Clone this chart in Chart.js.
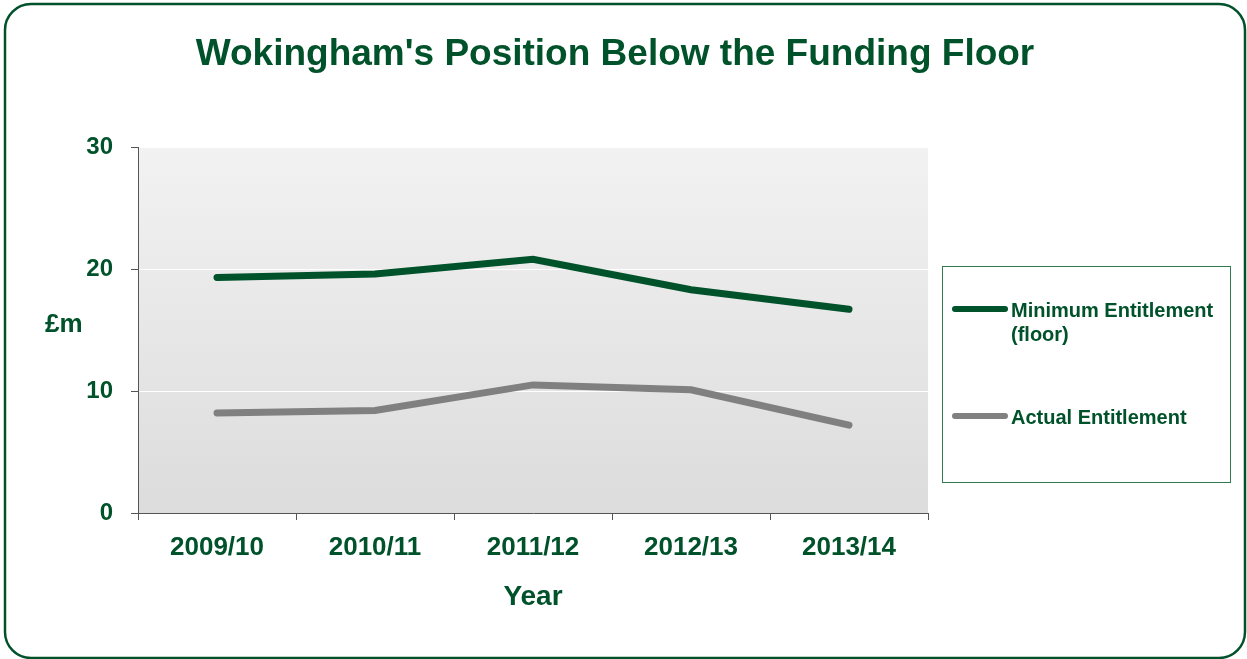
<!DOCTYPE html>
<html>
<head>
<meta charset="utf-8">
<script src="https://cdn.jsdelivr.net/npm/chart.js@4.4.1/dist/chart.umd.min.js"></script>
<style>
  body { margin: 0; background: #ffffff; }
  #wrap { width: 1247px; height: 659px; position: relative; }
</style>
</head>
<body>
<div id="wrap"><canvas id="myChart" width="1247" height="659"></canvas></div>
<script>
const years = ['2009/10', '2010/11', '2011/12', '2012/13', '2013/14'];
const minimumEntitlement = [19.3, 19.6, 20.8, 18.3, 16.7];
const actualEntitlement = [8.2, 8.4, 10.5, 10.1, 7.2];
const seriesNames = ['Minimum Entitlement (floor)', 'Actual Entitlement'];
const yTicks = [0, 10, 20, 30];

const titleText = "Wokingham's Position Below the Funding Floor";
const yTitle = '£m';
const xTitle = 'Year';

const green = '#00522a';
const grey = '#808080';
const axisGrey = '#555555';
const fontFamily = '"Liberation Sans", Arial, sans-serif';

// frame, plot background, title, y title and the boxed legend
const decorations = {
    id: 'decorations',
    beforeDraw(chart) {
        const ctx = chart.ctx;
        const a = chart.chartArea;
        let grad = ctx.createLinearGradient(0, a.top, 0, a.bottom);
        grad.addColorStop(0, '#f2f2f2');
        grad.addColorStop(1, '#dcdcdc');
        ctx.save();
        ctx.fillStyle = grad;
        ctx.fillRect(a.left, a.top, a.right - a.left, a.bottom - a.top);
        ctx.restore();
    },
    afterDraw(chart) {
        const ctx = chart.ctx;
        ctx.save();

        // rounded outer frame
        let x0 = 5, y0 = 4, x1 = 1245, y1 = 658, r = 26;
        ctx.strokeStyle = green;
        ctx.lineWidth = 2.5;
        ctx.beginPath();
        ctx.moveTo(x0 + r, y0);
        ctx.lineTo(x1 - r, y0);
        ctx.arcTo(x1, y0, x1, y0 + r, r);
        ctx.lineTo(x1, y1 - r);
        ctx.arcTo(x1, y1, x1 - r, y1, r);
        ctx.lineTo(x0 + r, y1);
        ctx.arcTo(x0, y1, x0, y1 - r, r);
        ctx.lineTo(x0, y0 + r);
        ctx.arcTo(x0, y0, x0 + r, y0, r);
        ctx.closePath();
        ctx.stroke();

        // title
        ctx.fillStyle = green;
        ctx.textAlign = 'center';
        ctx.textBaseline = 'alphabetic';
        ctx.font = 'bold 37px ' + fontFamily;
        ctx.fillText(titleText, 615, 65);

        // y axis title, horizontal
        ctx.textAlign = 'left';
        ctx.font = 'bold 26px ' + fontFamily;
        ctx.fillText(yTitle, 45, 332);

        // legend box
        ctx.strokeStyle = '#2f7a4f';
        ctx.lineWidth = 1;
        ctx.strokeRect(942.5, 266.5, 288, 216);

        const rows = [309, 416];
        ctx.font = 'bold 20px ' + fontFamily;
        ctx.textBaseline = 'middle';
        chart.data.datasets.forEach((ds, i) => {
            let y = rows[i];
            ctx.strokeStyle = ds.borderColor;
            ctx.lineWidth = 6;
            ctx.lineCap = 'round';
            ctx.beginPath();
            ctx.moveTo(955, y);
            ctx.lineTo(1005, y);
            ctx.stroke();

            // wrap the label inside the box
            let words = ds.label.split(' ');
            let lines = [];
            let line = '';
            words.forEach(w => {
                let test = line ? line + ' ' + w : w;
                if (ctx.measureText(test).width > 214 && line) {
                    lines.push(line);
                    line = w;
                } else {
                    line = test;
                }
            });
            lines.push(line);
            ctx.fillStyle = green;
            lines.forEach((l, j) => {
                ctx.fillText(l, 1011, y + 2 + j * 24);
            });
        });

        ctx.restore();
    }
};

const ctx = document.getElementById('myChart').getContext('2d');

new Chart(ctx, {
    type: 'line',
    data: {
        labels: years,
        datasets: [
            {
                label: seriesNames[0],
                data: minimumEntitlement,
                borderColor: green,
                backgroundColor: green,
                borderWidth: 7,
                borderCapStyle: 'round',
                pointRadius: 0,
                tension: 0
            },
            {
                label: seriesNames[1],
                data: actualEntitlement,
                borderColor: grey,
                backgroundColor: grey,
                borderWidth: 7,
                borderCapStyle: 'round',
                pointRadius: 0,
                tension: 0
            }
        ]
    },
    options: {
        responsive: false,
        animation: false,
        layout: {
            padding: { top: 147, left: 0, right: 319, bottom: 0 }
        },
        plugins: {
            legend: { display: false },
            title: { display: false },
            tooltip: { enabled: false }
        },
        scales: {
            x: {
                offset: true,
                grid: {
                    offset: true,
                    drawOnChartArea: false,
                    tickLength: 7,
                    tickColor: axisGrey
                },
                border: { color: axisGrey, width: 1 },
                ticks: {
                    color: green,
                    padding: 12,
                    maxRotation: 0,
                    font: { family: fontFamily, size: 26, weight: 'bold' }
                },
                title: {
                    display: true,
                    text: xTitle,
                    color: green,
                    padding: { top: 0, bottom: 45 },
                    font: { family: fontFamily, size: 28, weight: 'bold' }
                },
                afterFit(scale) { scale.height = 146; }
            },
            y: {
                min: 0,
                max: 30,
                afterBuildTicks(scale) {
                    scale.ticks = yTicks.map(v => ({ value: v }));
                },
                grid: {
                    color: '#ffffff',
                    lineWidth: 1,
                    tickLength: 7,
                    tickColor: axisGrey
                },
                border: { color: axisGrey, width: 1 },
                ticks: {
                    color: green,
                    padding: 18,
                    font: { family: fontFamily, size: 24, weight: 'bold' }
                },
                afterFit(scale) { scale.width = 138; }
            }
        }
    },
    plugins: [decorations]
});
</script>
</body>
</html>
